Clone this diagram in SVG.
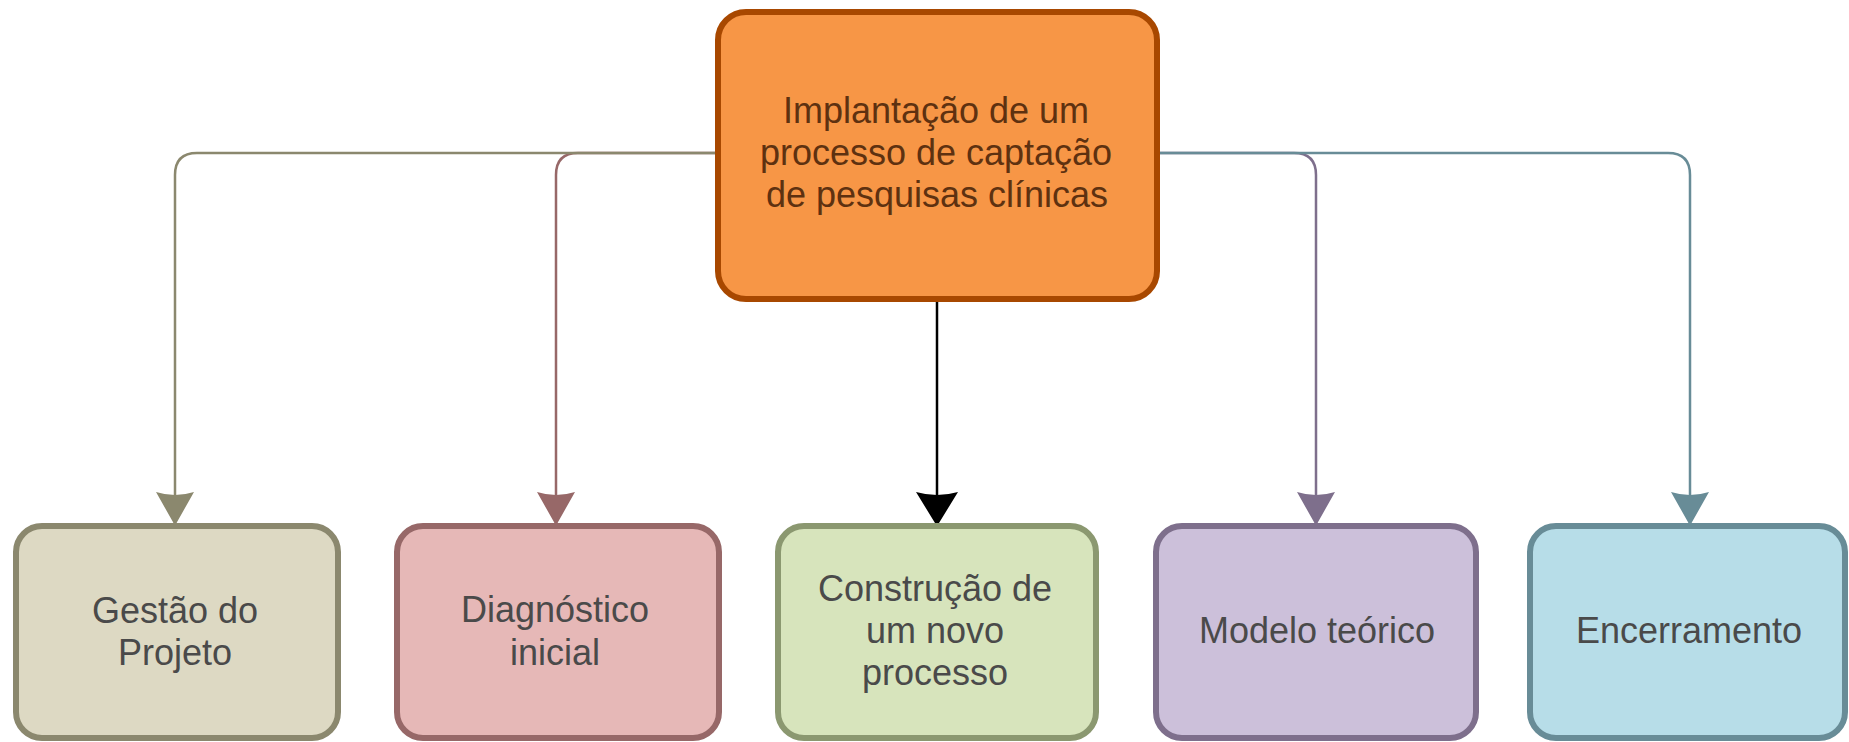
<svg xmlns="http://www.w3.org/2000/svg" width="1849" height="742" viewBox="0 0 1849 742">
<style>
  .node rect { stroke-width: 6; }
  .lbl { font-family: "Liberation Sans", Arial, sans-serif; font-size: 36px; text-anchor: middle; fill: #4a4a4a; }
  .top .lbl { fill: #5e3110; }
  .conn { fill: none; stroke-width: 2.5; }
</style>
<defs>
  <marker id="aK" markerUnits="userSpaceOnUse" markerWidth="32" markerHeight="40" viewBox="0 -20 32 40" refX="31" refY="0" orient="auto" overflow="visible"><path d="M0,-19 Q6,0 0,19 L31,1.5 L31,-1.5 Z" fill="#8b886e"/></marker>
  <marker id="aR" markerUnits="userSpaceOnUse" markerWidth="32" markerHeight="40" viewBox="0 -20 32 40" refX="31" refY="0" orient="auto" overflow="visible"><path d="M0,-19 Q6,0 0,19 L31,1.5 L31,-1.5 Z" fill="#976868"/></marker>
  <marker id="aB" markerUnits="userSpaceOnUse" markerWidth="32" markerHeight="44" viewBox="0 -22 32 44" refX="31" refY="0" orient="auto" overflow="visible"><path d="M0,-21 Q6,0 0,21 L31,2 L31,-2 Z" fill="#000000"/></marker>
  <marker id="aP" markerUnits="userSpaceOnUse" markerWidth="32" markerHeight="40" viewBox="0 -20 32 40" refX="31" refY="0" orient="auto" overflow="visible"><path d="M0,-19 Q6,0 0,19 L31,1.5 L31,-1.5 Z" fill="#7e6f8c"/></marker>
  <marker id="aT" markerUnits="userSpaceOnUse" markerWidth="32" markerHeight="40" viewBox="0 -20 32 40" refX="31" refY="0" orient="auto" overflow="visible"><path d="M0,-19 Q6,0 0,19 L31,1.5 L31,-1.5 Z" fill="#688c97"/></marker>
</defs>
<rect width="1849" height="742" fill="#ffffff"/>
<g id="connectors">
  <path class="conn" d="M715,153 H578 Q556,153 556,175 V523" stroke="#976868" marker-end="url(#aR)"/>
  <path class="conn" d="M715,153 H197 Q175,153 175,175 V523" stroke="#8b886e" marker-end="url(#aK)"/>
  <path class="conn" d="M937,302 V523" stroke="#000000" stroke-width="4" marker-end="url(#aB)"/>
  <path class="conn" d="M1160,153 H1294 Q1316,153 1316,175 V523" stroke="#7e6f8c" marker-end="url(#aP)"/>
  <path class="conn" d="M1160,153 H1668 Q1690,153 1690,175 V523" stroke="#688c97" marker-end="url(#aT)"/>
</g>
<g id="node-top" class="node top">
  <rect x="718" y="12" width="439" height="287" rx="28" ry="28" fill="#f79646" stroke="#a84800"/>
  <text class="lbl"><tspan x="936" y="123">Implantação de um</tspan><tspan x="936" y="165">processo de captação</tspan><tspan x="937" y="207">de pesquisas clínicas</tspan></text>
</g>
<g id="node-gestao" class="node">
  <rect x="16" y="526" width="322" height="212" rx="26" ry="26" fill="#ddd9c3" stroke="#8b886e"/>
  <text class="lbl"><tspan x="175" y="623">Gestão do</tspan><tspan x="175" y="665">Projeto</tspan></text>
</g>
<g id="node-diagnostico" class="node">
  <rect x="397" y="526" width="322" height="212" rx="26" ry="26" fill="#e6b8b7" stroke="#976868"/>
  <text class="lbl"><tspan x="555" y="622">Diagnóstico</tspan><tspan x="555" y="665">inicial</tspan></text>
</g>
<g id="node-construcao" class="node">
  <rect x="778" y="526" width="318" height="212" rx="26" ry="26" fill="#d7e4bc" stroke="#8b9870"/>
  <text class="lbl"><tspan x="935" y="601">Construção de</tspan><tspan x="935" y="643">um novo</tspan><tspan x="935" y="685">processo</tspan></text>
</g>
<g id="node-modelo" class="node">
  <rect x="1156" y="526" width="320" height="212" rx="26" ry="26" fill="#ccc0da" stroke="#7e6f8c"/>
  <text class="lbl"><tspan x="1317" y="643">Modelo teórico</tspan></text>
</g>
<g id="node-encerramento" class="node">
  <rect x="1530" y="526" width="315" height="212" rx="26" ry="26" fill="#b7dde8" stroke="#688c97"/>
  <text class="lbl"><tspan x="1689" y="643">Encerramento</tspan></text>
</g>
</svg>
